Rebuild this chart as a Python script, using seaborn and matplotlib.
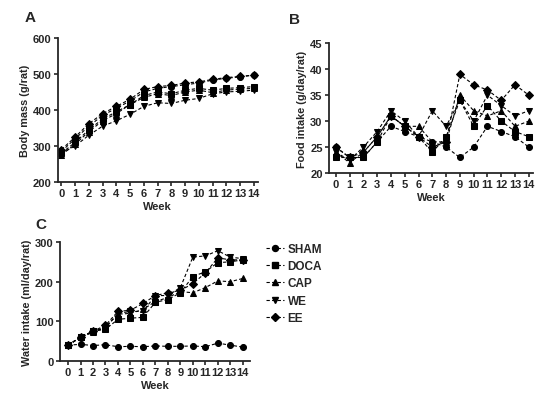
import numpy as np
import pandas as pd
import matplotlib
matplotlib.use("Agg")
import matplotlib.pyplot as plt
from matplotlib.lines import Line2D
import seaborn as sns

sns.set_theme(style="ticks")
plt.rcParams["font.family"] = ["Liberation Sans", "DejaVu Sans"]
plt.rcParams["font.weight"] = "bold"

weeks = list(range(15))
groups = ["SHAM", "DOCA", "CAP", "WE", "EE"]
markers = {"SHAM": "o", "DOCA": "s", "CAP": "^", "WE": "v", "EE": "D"}

# A. body mass (g/rat)
mass_sham = [285, 320, 355, 385, 405, 425, 450, 460, 465, 470, 475, 483, 488, 492, 497]
mass_doca = [280, 310, 345, 375, 395, 415, 440, 450, 445, 455, 460, 455, 460, 462, 465]
mass_cap = [275, 305, 340, 370, 390, 415, 435, 445, 440, 450, 455, 448, 455, 458, 460]
mass_we = [280, 300, 330, 355, 370, 388, 410, 420, 418, 427, 432, 445, 450, 452, 455]
mass_ee = [290, 325, 362, 390, 410, 430, 457, 465, 468, 475, 478, 485, 490, 493, 497]

# B. food intake (g/day/rat)
food_sham = [25, 23, 23, 26, 29, 28, 27, 26, 25, 23, 25, 29, 28, 27, 25]
food_doca = [23, 23, 23, 26, 31, 29, 27, 24, 27, 34, 29, 33, 30, 28, 27]
food_cap = [24, 22, 24, 27, 31, 29, 29, 26, 26, 35, 32, 31, 32, 29, 30]
food_we = [24, 22.5, 25, 28, 32, 30, 27, 32, 29, 34, 30, 35, 33, 31, 32]
food_ee = [25, 23, 24, 27, 31, 29, 27, 25, 26, 39, 37, 36, 34, 37, 35]

# C. water intake (ml/day/rat)
water_sham = [40, 42, 39, 41, 36, 37, 36, 38, 37, 37, 38, 36, 45, 40, 35]
water_doca = [40, 60, 75, 80, 105, 108, 110, 148, 155, 172, 213, 225, 248, 250, 255]
water_cap = [40, 60, 72, 85, 118, 120, 130, 150, 160, 175, 172, 185, 202, 200, 208]
water_we = [40, 60, 75, 85, 120, 125, 125, 165, 165, 185, 262, 265, 278, 262, 258]
water_ee = [40, 60, 75, 90, 125, 128, 145, 165, 172, 178, 195, 222, 260, 255, 255]

DASH = (0, (3, 2))


def to_long(series):
    frames = []
    for g, vals in zip(groups, series):
        frames.append(pd.DataFrame({"week": weeks, "value": vals, "group": g}))
    return pd.concat(frames, ignore_index=True)


def draw_panel(ax, df, ylim, yticks, ylabel, xlim):
    for g in groups:
        sub = df[df["group"] == g]
        sns.lineplot(data=sub, x="week", y="value", ax=ax, color="black",
                     linestyle=DASH, linewidth=0.8, marker=markers[g],
                     markersize=4.3 if g != "EE" else 3.7,
                     markeredgecolor="black", markerfacecolor="black")
    ax.set_xlim(*xlim)
    ax.set_ylim(*ylim)
    ax.set_yticks(yticks)
    ax.set_xticks(weeks)
    ax.set_xticklabels([str(w) for w in weeks])
    ax.set_xlabel("Week", fontsize=8, fontweight="bold", labelpad=2)
    ax.set_ylabel(ylabel, fontsize=7.8, fontweight="bold", labelpad=2)
    ax.tick_params(labelsize=8, width=1.2, length=3, pad=1.5)
    for lab in ax.get_xticklabels() + ax.get_yticklabels():
        lab.set_fontweight("bold")
    sns.despine(ax=ax)
    for s in ["left", "bottom"]:
        ax.spines[s].set_linewidth(1.3)
    if ax.get_legend():
        ax.get_legend().remove()


fig = plt.figure(figsize=(5.5, 4.02), dpi=100)

ax_a = fig.add_axes([0.105, 0.545, 0.364, 0.358])
draw_panel(ax_a, to_long([mass_sham, mass_doca, mass_cap, mass_we, mass_ee]),
           (200, 600), [200, 300, 400, 500, 600], "Body mass (g/rat)", (-0.27, 14.3))

ax_b = fig.add_axes([0.598, 0.567, 0.371, 0.323])
draw_panel(ax_b, to_long([food_sham, food_doca, food_cap, food_we, food_ee]),
           (20, 45), [20, 25, 30, 35, 40, 45], "Food intake (g/day/rat)", (-0.5, 14.3))

ax_c = fig.add_axes([0.109, 0.0995, 0.346, 0.296])
draw_panel(ax_c, to_long([water_sham, water_doca, water_cap, water_we, water_ee]),
           (0, 300), [0, 100, 200, 300], "Water intake (ml/day/rat)", (-0.65, 14.6))

fig.text(0.045, 0.955, "A", fontsize=11, fontweight="bold", va="center")
fig.text(0.525, 0.95, "B", fontsize=11, fontweight="bold", va="center")
fig.text(0.065, 0.44, "C", fontsize=11, fontweight="bold", va="center")

handles = [Line2D([], [], color="black", linestyle=DASH, linewidth=0.8,
                  marker=markers[g], markersize=4.3 if g != "EE" else 3.7)
           for g in groups]
fig.legend(handles, groups, loc="upper left", bbox_to_anchor=(0.465, 0.42),
           frameon=False, handlelength=1.5, handletextpad=0.3,
           labelspacing=0.45, prop={"weight": "bold", "size": 8.5})

fig.savefig("out.png", dpi=100)
